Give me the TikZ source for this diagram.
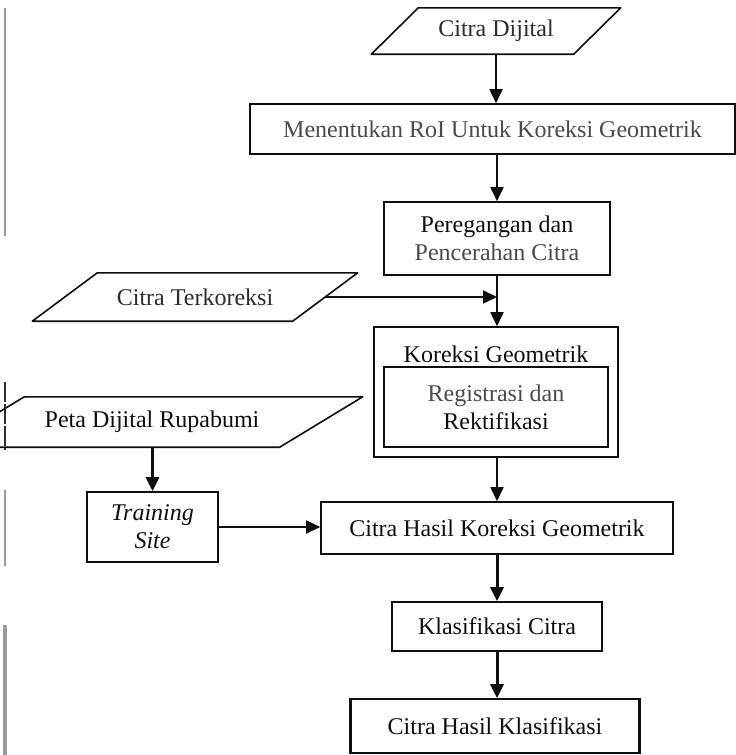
\documentclass[tikz,border=0pt]{standalone}
\usepackage{fontspec}
\setmainfont{Liberation Serif}
\usetikzlibrary{arrows.meta,calc}
\definecolor{ink}{HTML}{0E0E0E}
\definecolor{mid}{HTML}{4A4A4A}
\definecolor{dim}{HTML}{2C2C2C}
\definecolor{edge}{HTML}{9A9A9A}
\tikzset{
  base/.style={inner sep=0pt, align=center, text=ink,
               font=\fontsize{24}{28}\selectfont},
  procbox/.style={base, draw=ink, line width=1.6pt},
  iobox/.style={base, draw=none},
  outline/.style={draw=ink, line width=1.6pt, line join=round},
  flow/.style={draw=ink, line width=1.8pt,
               -{Triangle[width=13pt,length=14pt]}},
  heavyflow/.style={flow, line width=3pt},
}
% parallelogram around an undrawn node: #1 name, #2 half of the horizontal slant
\newcommand\slantbox[2]{%
  \draw[outline] ([xshift=-#2pt]#1.south west) -- ([xshift=-#2pt]#1.south east)
    -- ([xshift=#2pt]#1.north east) -- ([xshift=#2pt]#1.north west) -- cycle;}
\begin{document}
\begin{tikzpicture}[x=1pt,y=-1pt]
\useasboundingbox (0,0) rectangle (736,755);
\fill[white] (0,0) rectangle (736,755);
\clip (0,0) rectangle (736,755);

% page-edge marks along the left border
\draw[edge, line width=1.4pt] (5,8) -- (5,236);
\draw[dim, line width=1.2pt, dash pattern=on 20pt off 2pt] (5,382) -- (5,450);
\draw[edge, line width=2pt] (5,490) -- (5,566);
\draw[edge, line width=4pt] (5,625) -- (5,755);

% main column
\node[iobox, minimum width=202pt, minimum height=46pt, text=dim] (dij) at (496,31) {Citra Dijital};
\slantbox{dij}{23.5}

\node[procbox, minimum width=485pt, minimum height=50pt, text=mid] (roi) at (492.5,129)
  {Menentukan RoI Untuk Koreksi Geometrik};

\node[procbox, minimum width=226pt, minimum height=73pt] (pereg) at (497,238.5)
  {Peregangan dan\\\textcolor{mid}{Pencerahan Citra}};

\node[iobox, minimum width=260pt, minimum height=48pt, text=dim] (ter) at (195,297) {Citra Terkoreksi};
\slantbox{ter}{32.5}

\node[procbox, minimum width=244pt, minimum height=130pt] (kor) at (496,392) {};
\node[base] (kortitle) at (496,354) {Koreksi Geometrik};
\node[procbox, minimum width=224pt, minimum height=80pt] (reg) at (496,407)
  {\textcolor{mid}{Registrasi dan}\\Rektifikasi};

\node[iobox, minimum width=338pt, minimum height=50pt] (peta) at (152,422) {Peta Dijital Rupabumi};
\slantbox{peta}{41.5}

\node[procbox, minimum width=131pt, minimum height=70pt, font=\fontsize{24}{28}\selectfont\itshape]
  (train) at (152.5,527) {Training\\Site};

\node[procbox, minimum width=352pt, minimum height=52pt] (chk) at (497,528)
  {Citra Hasil Koreksi Geometrik};
\node[procbox, minimum width=210pt, minimum height=49pt] (klas) at (497,626.5)
  {Klasifikasi Citra};
\node[procbox, minimum width=288pt, minimum height=54pt] (hasil) at (495,726)
  {Citra Hasil Klasifikasi};
\draw[ink, line width=3pt] (hasil.north west) -- (hasil.south west)
  (hasil.north east) -- (hasil.south east);

% connectors
\draw[flow] (dij.south) -- (dij.south |- roi.north);
\draw[flow] (pereg.north |- roi.south) -- (pereg.north);
\draw[flow] (pereg.south) -- (pereg.south |- kor.north);
\draw[flow] (ter.east) -- (ter.east -| pereg.south);
\draw[flow] (chk.north |- kor.south) -- (chk.north);
\draw[heavyflow] (train.north |- peta.south) -- (train.north);
\draw[flow] (train.east) -- (chk.west |- train.east);
\draw[heavyflow] (chk.south) -- (klas.north);
\draw[heavyflow] (klas.south) -- (klas.south |- hasil.north);
\end{tikzpicture}
\end{document}
